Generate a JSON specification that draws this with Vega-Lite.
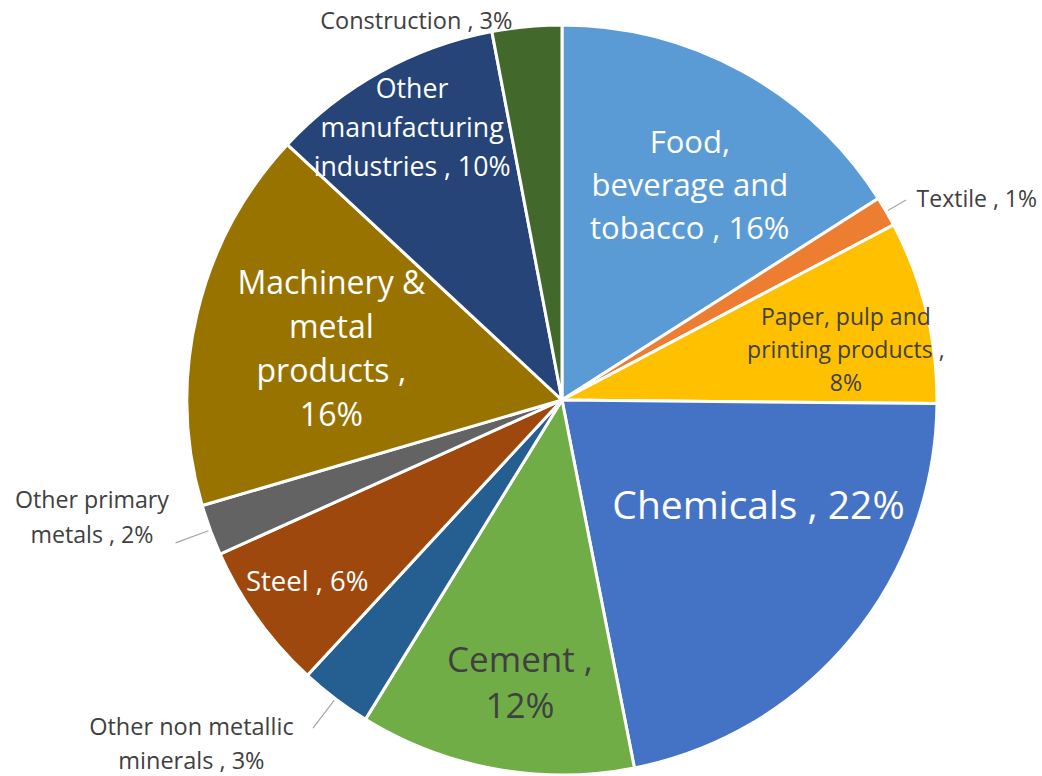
{
  "$schema": "https://vega.github.io/schema/vega-lite/v6.json",
  "width": 750,
  "height": 750,
  "autosize": {"type": "none"},
  "padding": {"left": 187, "top": 25, "right": 105, "bottom": 1},
  "background": "white",
  "config": {"view": {"stroke": null}, "text": {"font": "Open Sans"}},
  "data": {
    "values": [
      {"sector": "Food, beverage and tobacco", "value": 16.0, "label": "Food,\nbeverage and\ntobacco , 16%"},
      {"sector": "Textile", "value": 1.3, "label": "Textile , 1%"},
      {"sector": "Paper, pulp and printing products", "value": 7.9, "label": "Paper, pulp and\nprinting products ,\n8%"},
      {"sector": "Chemicals", "value": 21.8, "label": "Chemicals , 22%"},
      {"sector": "Cement", "value": 11.9, "label": "Cement ,\n12%"},
      {"sector": "Other non metallic minerals", "value": 3.1, "label": "Other non metallic\nminerals , 3%"},
      {"sector": "Steel", "value": 6.4, "label": "Steel , 6%"},
      {"sector": "Other primary metals", "value": 2.2, "label": "Other primary\nmetals , 2%"},
      {"sector": "Machinery & metal products", "value": 16.5, "label": "Machinery &\nmetal\nproducts ,\n16%"},
      {"sector": "Other manufacturing industries", "value": 10.1, "label": "Other\nmanufacturing\nindustries , 10%"},
      {"sector": "Construction", "value": 3.0, "label": "Construction , 3%"}
    ]
  },
  "transform": [{"window": [{"op": "row_number", "as": "rank"}]}],
  "encoding": {
    "theta": {"field": "value", "type": "quantitative", "stack": true},
    "order": {"field": "rank", "type": "quantitative"}
  },
  "layer": [
    {
      "mark": {"type": "arc", "stroke": "white", "strokeWidth": 3},
      "encoding": {
        "color": {
          "field": "sector",
          "type": "nominal",
          "legend": null,
          "scale": {
            "domain": ["Food, beverage and tobacco", "Textile", "Paper, pulp and printing products", "Chemicals", "Cement", "Other non metallic minerals", "Steel", "Other primary metals", "Machinery & metal products", "Other manufacturing industries", "Construction"],
            "range": ["#5B9BD5", "#ED7D31", "#FFC000", "#4472C4", "#70AD47", "#255E91", "#9E480E", "#636363", "#997300", "#264478", "#43682B"]
          }
        }
      }
    },
    {
      "mark": {"type": "arc", "radius": 412, "radius2": 377, "padAngle": 0.6, "fill": null, "filled": false, "stroke": "#A6A6A6", "strokeWidth": 1.2},
      "encoding": {
        "detail": {"field": "sector"},
        "strokeOpacity": {"condition": {"test": "indexof(['Other primary metals','Other non metallic minerals'], datum.sector) >= 0", "value": 1}, "value": 0}
      }
    },
    {
      "mark": {"type": "arc", "radius": 398, "radius2": 377, "padAngle": 0.6, "fill": null, "filled": false, "stroke": "#A6A6A6", "strokeWidth": 1.2},
      "encoding": {
        "detail": {"field": "sector"},
        "strokeOpacity": {"condition": {"test": "datum.sector === 'Textile'", "value": 1}, "value": 0}
      }
    },
    {
      "mark": {"type": "text", "radius": 247, "dx": 9, "dy": -39, "fontSize": 31, "lineHeight": 43, "fill": "white", "lineBreak": "\n", "align": "center", "baseline": "middle"},
      "encoding": {"detail": {"field": "sector"}, "text": {"condition": {"test": "datum.sector === 'Food, beverage and tobacco'", "field": "label"}, "value": ""}}
    },
    {
      "mark": {"type": "text", "radius": 459, "dx": 18, "dy": 31, "fontSize": 23, "fill": "#404040", "lineBreak": "\n", "align": "center", "baseline": "middle"},
      "encoding": {"detail": {"field": "sector"}, "text": {"condition": {"test": "datum.sector === 'Textile'", "field": "label"}, "value": ""}}
    },
    {
      "mark": {"type": "text", "radius": 288, "dx": 4, "dy": -14, "fontSize": 23, "lineHeight": 33, "fill": "#404040", "lineBreak": "\n", "align": "center", "baseline": "middle"},
      "encoding": {"detail": {"field": "sector"}, "text": {"condition": {"test": "datum.sector === 'Paper, pulp and printing products'", "field": "label"}, "value": ""}}
    },
    {
      "mark": {"type": "text", "radius": 219, "dx": 28, "dy": -33, "fontSize": 39, "fill": "white", "lineBreak": "\n", "align": "center", "baseline": "middle"},
      "encoding": {"detail": {"field": "sector"}, "text": {"condition": {"test": "datum.sector === 'Chemicals'", "field": "label"}, "value": ""}}
    },
    {
      "mark": {"type": "text", "radius": 287, "dx": 9, "dy": -21, "fontSize": 35, "lineHeight": 46, "fill": "#404040", "lineBreak": "\n", "align": "center", "baseline": "middle"},
      "encoding": {"detail": {"field": "sector"}, "text": {"condition": {"test": "datum.sector === 'Cement'", "field": "label"}, "value": ""}}
    },
    {
      "mark": {"type": "text", "radius": 499, "dx": -69, "dy": -70, "fontSize": 23.5, "lineHeight": 34, "fill": "#404040", "lineBreak": "\n", "align": "center", "baseline": "middle"},
      "encoding": {"detail": {"field": "sector"}, "text": {"condition": {"test": "datum.sector === 'Other non metallic minerals'", "field": "label"}, "value": ""}}
    },
    {
      "mark": {"type": "text", "radius": 314, "fontSize": 27.5, "fill": "white", "lineBreak": "\n", "align": "center", "baseline": "middle"},
      "encoding": {"detail": {"field": "sector"}, "text": {"condition": {"test": "datum.sector === 'Steel'", "field": "label"}, "value": ""}}
    },
    {
      "mark": {"type": "text", "radius": 482, "dx": -18, "dy": -66, "fontSize": 23.2, "lineHeight": 35, "fill": "#404040", "lineBreak": "\n", "align": "center", "baseline": "middle"},
      "encoding": {"detail": {"field": "sector"}, "text": {"condition": {"test": "datum.sector === 'Other primary metals'", "field": "label"}, "value": ""}}
    },
    {
      "mark": {"type": "text", "radius": 237, "dy": -62, "fontSize": 32, "lineHeight": 44, "fill": "white", "lineBreak": "\n", "align": "center", "baseline": "middle"},
      "encoding": {"detail": {"field": "sector"}, "text": {"condition": {"test": "datum.sector === 'Machinery & metal products'", "field": "label"}, "value": ""}}
    },
    {
      "mark": {"type": "text", "radius": 310, "dy": -39, "fontSize": 26.7, "lineHeight": 39, "fill": "white", "lineBreak": "\n", "align": "center", "baseline": "middle"},
      "encoding": {"detail": {"field": "sector"}, "text": {"condition": {"test": "datum.sector === 'Other manufacturing industries'", "field": "label"}, "value": ""}}
    },
    {
      "mark": {"type": "text", "radius": 390, "dx": -109, "dy": 10, "fontSize": 23.5, "fill": "#404040", "lineBreak": "\n", "align": "center", "baseline": "middle"},
      "encoding": {"detail": {"field": "sector"}, "text": {"condition": {"test": "datum.sector === 'Construction'", "field": "label"}, "value": ""}}
    }
  ]
}
